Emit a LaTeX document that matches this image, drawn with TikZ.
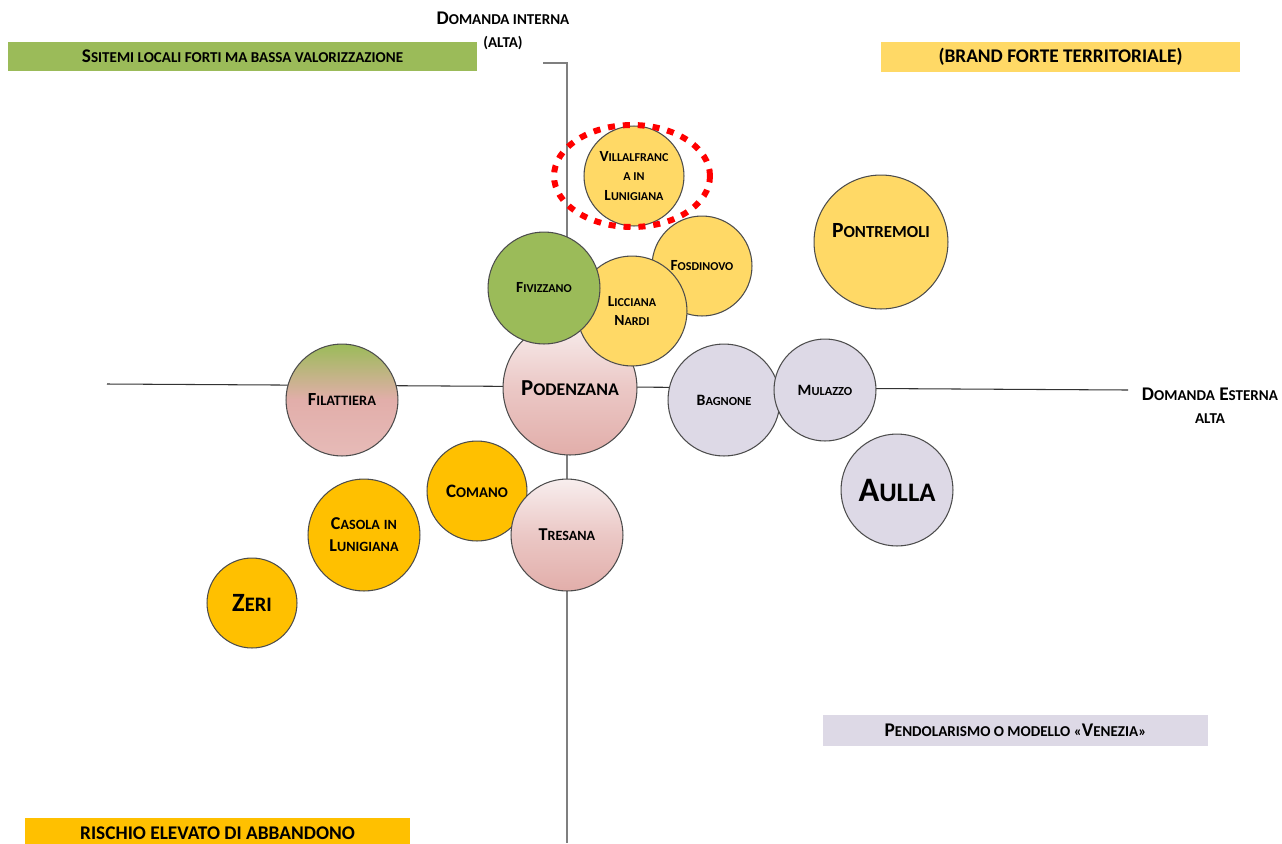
\documentclass[tikz,border=0pt]{standalone}
\usepackage{fontspec}
\setmainfont{Carlito}
\usepackage{tikz}
\definecolor{verde}{HTML}{9BBB59}
\definecolor{giallo}{HTML}{FFD966}
\definecolor{arancio}{HTML}{FFC000}
\definecolor{lilla}{HTML}{DDD9E6}
\definecolor{rosa}{HTML}{E2AEAA}
\definecolor{rosachiaro}{HTML}{F8EEEE}
\definecolor{asse}{HTML}{7F7F7F}
\newcommand{\pk}[1]{\scalebox{0.78}{#1}}
\newcommand{\mc}[2]{#1\pk{#2}}
\newcommand{\fs}[2]{\fontsize{#1}{#2}\selectfont}
\pgfkeys{tikz/comune/.style={circle, draw=black!70, line width=0.6pt,
                                 inner sep=0pt, align=center,
                                 minimum size=#1*0.04cm}}
\pgfkeys{tikz/quadrante/.style={inner sep=0pt, minimum height=0.6cm,
                                    font=\bfseries\fs{11}{13}}}
\pgfkeys{tikz/rosato/.style={top color=rosachiaro, bottom color=rosa,
                                 middle color=rosa!60!rosachiaro}}

\begin{document}
\begin{tikzpicture}[x=0.02cm, y=-0.02cm, font=\bfseries]
            \useasboundingbox (0,0) rectangle (1282,843);

            % assi
            \coordinate (ytick) at (543,63);
            \coordinate (ytop) at (567,63);
            \coordinate (ybot) at (567,843);
            \coordinate (xsx) at (107,384);
            \coordinate (xdx) at (1128,390);

                    \draw[asse, line width=1pt] (ytick) -- (ytop) -- (ybot);
                    \draw[black!80, line width=0.6pt] (xsx) -- (xdx);

            \node[align=center, font=\bfseries\fs{11}{13}] (dint) at (503,31) {\mc{D}{OMANDA INTERNA}\\\pk{(ALTA)}};
            \node[align=center, font=\bfseries\fs{11}{13}] (dest) at (1210,406) {\mc{D}{OMANDA} \mc{E}{STERNA}\\\pk{ALTA}};

            % quadranti
            \node[quadrante, fill=verde, minimum width=9.38cm, minimum height=0.58cm] (q1) at (242.5,56.5) {\mc{S}{SITEMI LOCALI FORTI MA BASSA VALORIZZAZIONE}};
            \node[quadrante, fill=giallo, minimum width=7.18cm] (q2) at (1060.5,57) {(BRAND FORTE TERRITORIALE)};
            \node[quadrante, fill=lilla, minimum width=7.7cm, minimum height=0.62cm] (q3) at (1015.5,730.5) {\mc{P}{ENDOLARISMO O MODELLO «}\mc{V}{ENEZIA»}};
            \node[quadrante, fill=arancio, minimum width=7.7cm, minimum height=0.62cm] (q4) at (217.5,833.5) {RISCHIO ELEVATO DI ABBANDONO};

            % comuni
            \node[comune=67, fill=giallo, font=\bfseries\fs{12.3}{14}] (pontremoli) at (881,242) {\raisebox{0.45cm}{\mc{P}{ONTREMOLI}}};
            \node[comune=50, fill=giallo, font=\bfseries\fs{8.8}{11.3}] (villafranca) at (634,176) {\mc{V}{ILLALFRANC}\\\pk{A IN}\\\mc{L}{UNIGIANA}};
            \node[comune=50, fill=giallo, font=\bfseries\fs{8.8}{11}] (fosdinovo) at (702,266) {\mc{F}{OSDINOVO}};

                    \node[comune=67, rosato, font=\bfseries\fs{13}{15}] (podenzana) at (570,388) {\mc{P}{ODENZANA}};
                    \node[comune=55, fill=giallo, font=\bfseries\fs{8.8}{10.8}] (licciana) at (632,311) {\mc{L}{ICCIANA}\\\mc{N}{ARDI}};
                    \node[comune=56, fill=verde, font=\bfseries\fs{8.8}{11}] (fivizzano) at (544,288) {\mc{F}{IVIZZANO}};
                    \node[comune=56, top color=verde, bottom color=rosa!80!rosachiaro, middle color=rosa, font=\bfseries\fs{10.5}{12}] (filattiera) at (342,400) {\mc{F}{ILATTIERA}};

                    \node[comune=56, fill=lilla, font=\bfseries\fs{9}{11}] (bagnone) at (724,400) {\mc{B}{AGNONE}};
                    \node[comune=51, fill=lilla, font=\bfseries\fs{9}{11}] (mulazzo) at (825,390) {\mc{M}{ULAZZO}};
                    \node[comune=56, fill=lilla, font=\bfseries\fs{19.5}{22}] (aulla) at (897,490) {\mc{A}{ULLA}};

                    \node[comune=50, fill=arancio, font=\bfseries\fs{10.8}{12}] (comano) at (477,491) {\mc{C}{OMANO}};
                    \node[comune=56, rosato, font=\bfseries\fs{10.3}{12}] (tresana) at (567,535) {\mc{T}{RESANA}};
                    \node[comune=56, fill=arancio, font=\bfseries\fs{10.3}{12.5}] (casola) at (364,535) {\mc{C}{ASOLA} \pk{IN}\\\mc{L}{UNIGIANA}};
                    \node[comune=45, fill=arancio, font=\bfseries\fs{15}{17}] (zeri) at (252,603) {\mc{Z}{ERI}};

            % evidenza
            \draw[red, line width=3.4pt, dash pattern=on 4pt off 4.5pt] (632,176) ellipse [x radius=1.56cm, y radius=1.02cm];
\end{tikzpicture}
\end{document}
